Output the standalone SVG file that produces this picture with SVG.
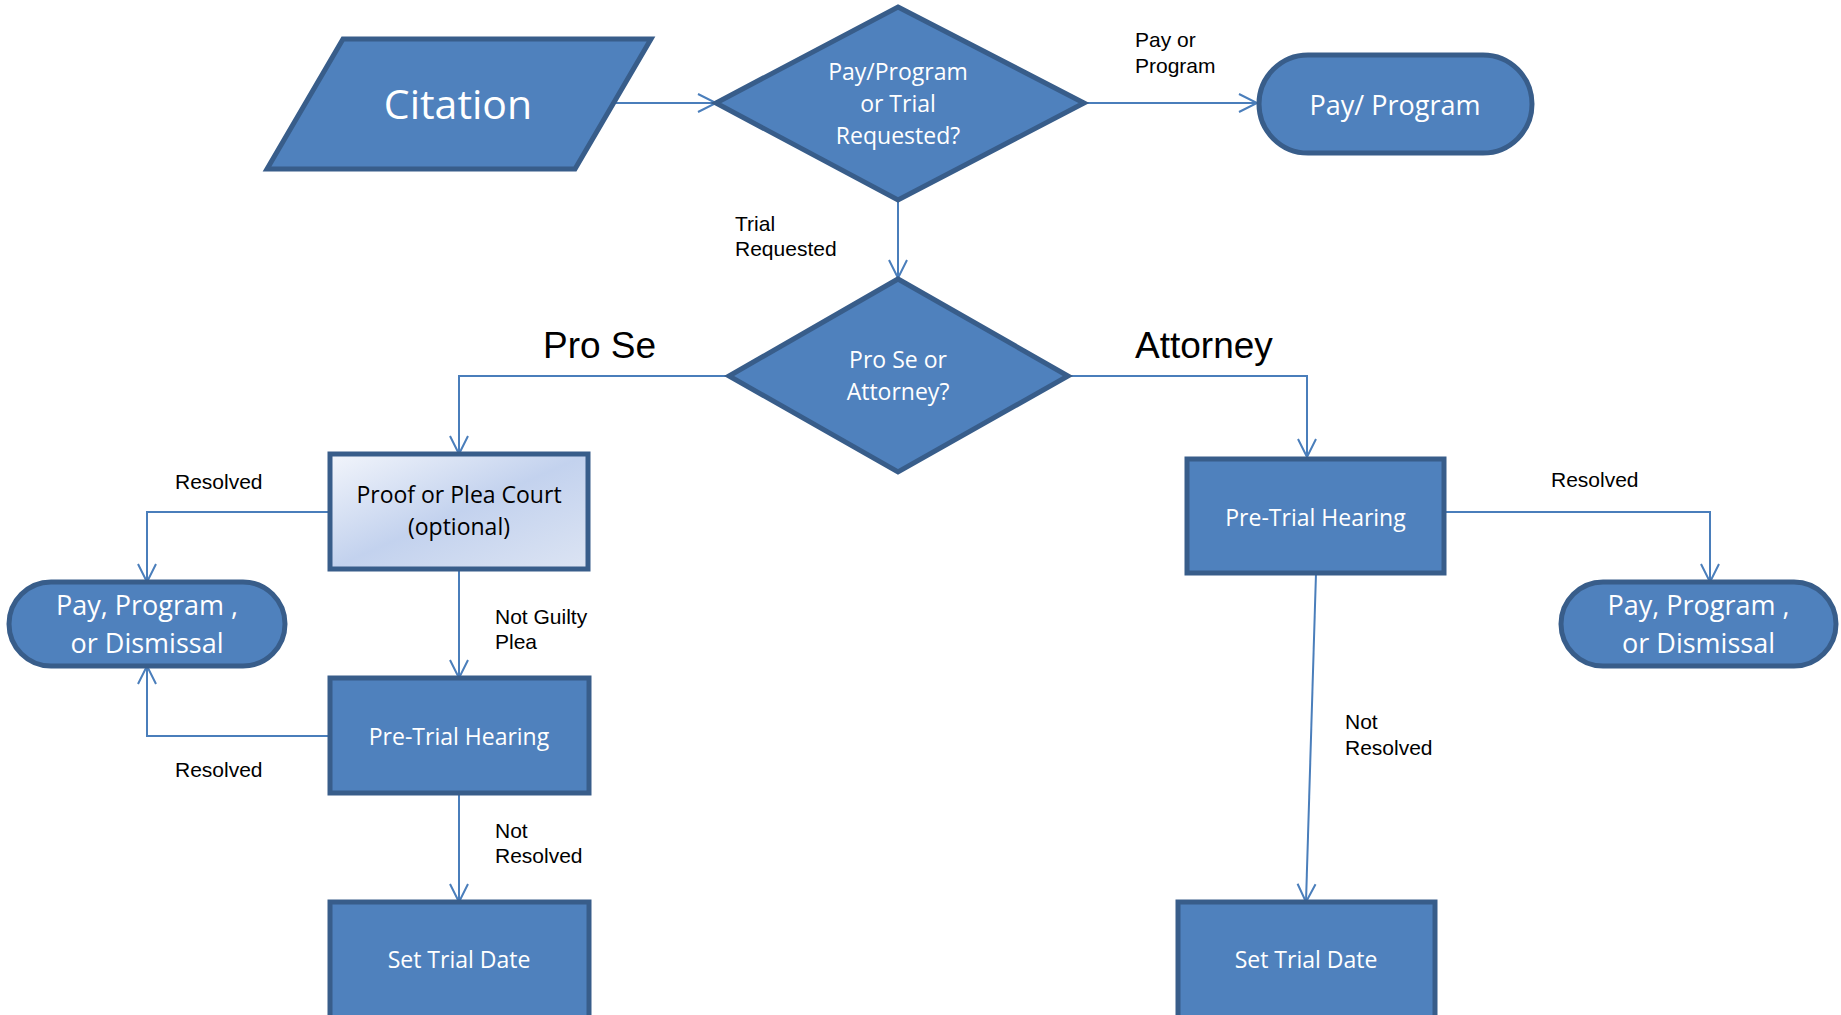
<svg xmlns="http://www.w3.org/2000/svg" width="1841" height="1015" viewBox="0 0 1841 1015">
<style>
.node{fill:#4F81BD;stroke:#385D8A;stroke-width:5;stroke-linejoin:miter}
.nt{font-family:"Open Sans","Noto Sans",sans-serif;fill:#FFFFFF;text-anchor:middle;font-size:23px}
.dt{font-family:"Open Sans","Noto Sans",sans-serif;fill:#000000;text-anchor:middle;font-size:23px}
.lbl{font-family:"Liberation Sans",Arial,sans-serif;fill:#000000;font-size:21px}
.big{font-family:"Liberation Sans",Arial,sans-serif;fill:#000000;font-size:37px}
.edge{fill:none;stroke:#4A7EBB;stroke-width:2;marker-end:url(#arr)}
</style>
<defs>
<marker id="arr" markerUnits="userSpaceOnUse" viewBox="-22 -12 24 24" refX="0" refY="0" markerWidth="24" markerHeight="24" orient="auto" overflow="visible">
<path d="M-18,-9 L0,0 L-18,9" fill="none" stroke="#4A7EBB" stroke-width="2"/>
</marker>
<linearGradient id="pg" x1="0" y1="0" x2="1" y2="1">
<stop offset="0" stop-color="#F2F5FB"/>
<stop offset="0.5" stop-color="#C3D2EE"/>
<stop offset="1" stop-color="#DCE4F3"/>
</linearGradient>
</defs>
<rect width="1841" height="1015" fill="#FFFFFF"/>
<g id="connectors">
<path class="edge" d="M614,103 L716,103"/>
<path class="edge" d="M1084,103 L1257,103"/>
<path class="edge" d="M898,200 L898,278"/>
<path class="edge" d="M729,376 L459,376 L459,454"/>
<path class="edge" d="M1068,376 L1307,376 L1307,457"/>
<path class="edge" d="M330,512 L147,512 L147,582"/>
<path class="edge" d="M459,569 L459,678"/>
<path class="edge" d="M330,736 L147,736 L147,666"/>
<path class="edge" d="M459,793 L459,902"/>
<path class="edge" d="M1444,512 L1710,512 L1710,582"/>
<path class="edge" d="M1316,573 L1306,902"/>
</g>
<g id="labels">
<text class="lbl" x="1135" y="47">Pay or</text>
<text class="lbl" x="1135" y="73">Program</text>
<text class="lbl" x="735" y="231">Trial</text>
<text class="lbl" x="735" y="256">Requested</text>
<text class="big" x="543" y="358">Pro Se</text>
<text class="big" x="1135" y="358">Attorney</text>
<text class="lbl" x="175" y="489">Resolved</text>
<text class="lbl" x="1551" y="487">Resolved</text>
<text class="lbl" x="495" y="624">Not Guilty</text>
<text class="lbl" x="495" y="649">Plea</text>
<text class="lbl" x="175" y="777">Resolved</text>
<text class="lbl" x="495" y="838">Not</text>
<text class="lbl" x="495" y="863">Resolved</text>
<text class="lbl" x="1345" y="729">Not</text>
<text class="lbl" x="1345" y="755">Resolved</text>
</g>
<g id="citation">
<polygon class="node" points="343,39 651,39 575,169 267,169"/>
<text class="nt" x="458" y="119" style="font-size:41px">Citation</text>
</g>
<g id="decision1">
<polygon class="node" points="898,7 1084,103 898,200 716,103"/>
<text class="nt" x="898" y="80">Pay/Program</text>
<text class="nt" x="898" y="112">or Trial</text>
<text class="nt" x="898" y="144">Requested?</text>
</g>
<g id="payprogram">
<rect class="node" x="1259" y="55" width="273" height="98" rx="49" ry="49"/>
<text class="nt" x="1395" y="115" style="font-size:27px">Pay/ Program</text>
</g>
<g id="decision2">
<polygon class="node" points="898,279 1068,376 898,472 729,376"/>
<text class="nt" x="898" y="368">Pro Se or</text>
<text class="nt" x="898" y="400">Attorney?</text>
</g>
<g id="proof">
<rect x="330" y="454" width="258" height="115" fill="url(#pg)" stroke="#385D8A" stroke-width="5"/>
<text class="dt" x="459" y="503">Proof or Plea Court</text>
<text class="dt" x="459" y="535">(optional)</text>
</g>
<g id="pretrial-left">
<rect class="node" x="330" y="678" width="259" height="115"/>
<text class="nt" x="459" y="745">Pre-Trial Hearing</text>
</g>
<g id="settrial-left">
<rect class="node" x="330" y="902" width="259" height="130"/>
<text class="nt" x="459" y="968">Set Trial Date</text>
</g>
<g id="terminal-left">
<rect class="node" x="9" y="582" width="276" height="84" rx="42" ry="42"/>
<text class="nt" x="147" y="615" style="font-size:27px">Pay, Program ,</text>
<text class="nt" x="147" y="653" style="font-size:27px">or Dismissal</text>
</g>
<g id="pretrial-right">
<rect class="node" x="1187" y="459" width="257" height="114"/>
<text class="nt" x="1315.5" y="526">Pre-Trial Hearing</text>
</g>
<g id="terminal-right">
<rect class="node" x="1561" y="582" width="275" height="84" rx="42" ry="42"/>
<text class="nt" x="1698.5" y="615" style="font-size:27px">Pay, Program ,</text>
<text class="nt" x="1698.5" y="653" style="font-size:27px">or Dismissal</text>
</g>
<g id="settrial-right">
<rect class="node" x="1178" y="902" width="257" height="130"/>
<text class="nt" x="1306" y="968">Set Trial Date</text>
</g>
</svg>
